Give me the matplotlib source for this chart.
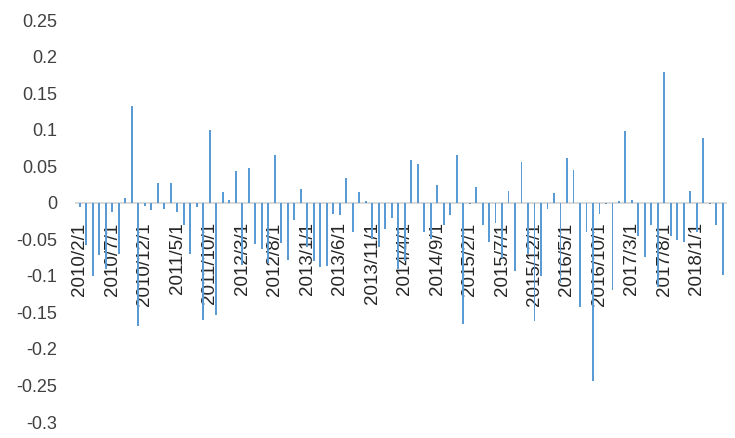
#!/usr/bin/env python3
"""Monthly return bars, 2010/2 - 2018/5, Excel-style column chart."""

import matplotlib

matplotlib.use("Agg")
import matplotlib.pyplot as plt
import numpy as np
import pandas as pd


months = [f"{d.year}/{d.month}/1" for d in pd.date_range("2010-02-01", periods=100, freq="MS")]

returns = [
    -0.006, -0.058, -0.100, -0.072, -0.090, -0.012, -0.070, 0.006, 0.132, -0.168,
    -0.005, -0.010, 0.027, -0.009, 0.027, -0.012, -0.030, -0.070, -0.006, -0.161,
    0.100, -0.153, 0.015, 0.004, 0.043, -0.085, 0.047, -0.056, -0.063, -0.083,
    0.065, -0.055, -0.078, -0.024, 0.019, -0.060, -0.080, -0.088, -0.086, -0.015,
    -0.017, 0.034, -0.040, 0.015, 0.002, -0.050, -0.060, -0.036, -0.021, -0.090,
    -0.080, 0.059, 0.053, -0.040, -0.050, 0.024, -0.030, -0.017, 0.065, -0.166,
    -0.002, 0.021, -0.031, -0.054, -0.027, -0.075, 0.016, -0.093, 0.056, -0.070,
    -0.162, -0.100, -0.008, 0.013, -0.110, 0.062, 0.045, -0.143, -0.040, -0.244,
    -0.015, -0.002, -0.120, 0.002, 0.098, 0.004, -0.045, -0.074, -0.031, -0.115,
    0.179, -0.045, -0.051, -0.054, 0.016, -0.040, 0.089, -0.002, -0.030, -0.099,
]

y_ticks = [0.25, 0.2, 0.15, 0.1, 0.05, 0, -0.05, -0.1, -0.15, -0.2, -0.25, -0.3]
y_tick_labels = ["0.25", "0.2", "0.15", "0.1", "0.05", "0", "-0.05", "-0.1",
                 "-0.15", "-0.2", "-0.25", "-0.3"]


def main() -> None:
    plt.rcParams["font.family"] = ["Liberation Sans", "DejaVu Sans"]
    fig = plt.figure(figsize=(7.35, 4.38), dpi=100)
    ax = fig.add_axes([0.104, 0.0365, 0.884, 0.9175])

    x = np.arange(len(returns))
    ax.bar(x, returns, width=0.3, color="#5b9bd5", zorder=2)

    ax.set_xlim(-0.5, len(returns) - 0.5)
    ax.set_ylim(-0.3, 0.25)

    for side in ("left", "right", "top"):
        ax.spines[side].set_visible(False)
    ax.spines["bottom"].set_position(("data", 0))
    ax.spines["bottom"].set_color("#d9d9d9")
    ax.spines["bottom"].set_linewidth(1.4)
    ax.spines["bottom"].set_zorder(1)

    ax.set_xticks(x[::5], labels=months[::5], rotation=90, ha="center", va="top")
    ax.tick_params(axis="x", length=0, pad=14, labelsize=13.5, labelcolor="#262626")

    ax.set_yticks(y_ticks, labels=y_tick_labels)
    ax.tick_params(axis="y", length=0, pad=14, labelsize=13, labelcolor="#404040")

    fig.savefig("out.png", dpi=100, facecolor="white")
    plt.close(fig)


if __name__ == "__main__":
    main()
